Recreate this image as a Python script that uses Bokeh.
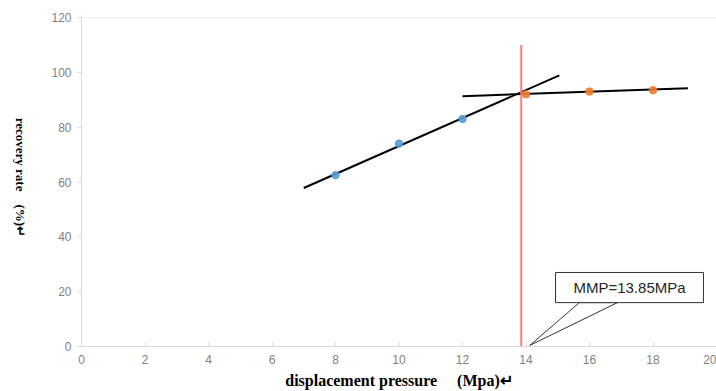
import math
from bokeh.plotting import figure
from bokeh.layouts import row
from bokeh.models import Label, Span, FixedTicker
from bokeh.core.properties import value
from bokeh.embed import file_html
from bokeh.resources import INLINE

# Data
blue_x = [8, 10, 12]
blue_y = [62.5, 74.0, 83.0]
orange_x = [14, 16, 18]
orange_y = [92.0, 93.0, 93.5]

# Trend lines (endpoints)
trend1_x = [7.0, 15.05]
trend1_y = [57.8, 98.9]
trend2_x = [12.0, 19.1]
trend2_y = [91.3, 94.2]

mmp_x = 13.85
mmp_top = 110
mmp_text = "MMP=13.85MPa"

# Callout box and pointer (data units)
box_left, box_right, box_bottom, box_top = 14.93, 19.59, 16.0, 27.0
tail_x = [15.68, 14.12, 16.88]
tail_y = [16.0, 0.4, 16.0]

x_ticks = [0, 2, 4, 6, 8, 10, 12, 14, 16, 18, 20]
y_ticks = [0, 20, 40, 60, 80, 100, 120]

x_title = "displacement pressure\u3000 (Mpa)\u21b5"
y_title = "recovery rate\u3000(%)\u21b5"

H = 391
LEFT_W = 40

# Narrow side panel that holds the rotated y-axis title
side = figure(width=LEFT_W, height=H, output_backend="svg", toolbar_location=None,
              x_range=(0, 1), y_range=(0, H), x_axis_location=None, y_axis_location=None,
              min_border=0)
side.outline_line_color = None
side.grid.grid_line_color = None
side.text(x=[0.5], y=[H - 190], text=[y_title], angle=-math.pi / 2,
          text_align="center", text_baseline="middle",
          text_font=value("Liberation Serif"), text_font_style="bold",
          text_font_size="13px", text_color="black")

p = figure(width=716 - LEFT_W, height=H, output_backend="svg", toolbar_location=None,
           x_range=(0, 20), y_range=(0, 120),
           min_border_left=81 - LEFT_W, min_border_right=0, min_border_top=17,
           min_border_bottom=44)
p.outline_line_color = None
p.grid.grid_line_color = None
p.background_fill_color = "white"

gray_line = "#d9d9d9"
for ax in (p.xaxis[0], p.yaxis[0]):
    ax.axis_line_color = gray_line
    ax.major_tick_line_color = gray_line
    ax.minor_tick_line_color = None
    ax.major_label_text_font = "Liberation Sans"
    ax.major_label_text_font_size = "12px"
    ax.major_label_text_color = "#7f7f7f"

p.xaxis.ticker = FixedTicker(ticks=x_ticks)
p.yaxis.ticker = FixedTicker(ticks=y_ticks)
p.xaxis.major_tick_in = 4
p.xaxis.major_tick_out = 0
p.xaxis.major_label_standoff = 8
p.xaxis.axis_label = x_title
p.xaxis.axis_label_standoff = 5
p.xaxis.axis_label_text_font = "Liberation Serif"
p.xaxis.axis_label_text_font_style = "bold"
p.xaxis.axis_label_text_font_size = "16px"
p.xaxis.axis_label_text_color = "black"
p.yaxis.major_tick_in = 0
p.yaxis.major_tick_out = 4
p.yaxis.major_label_standoff = 6

p.add_layout(Span(location=120, dimension="width", line_color=gray_line, line_width=1))

# trend lines
p.line(trend1_x, trend1_y, line_color="black", line_width=2)
p.line(trend2_x, trend2_y, line_color="black", line_width=2)

# MMP vertical line
p.segment(x0=[mmp_x], y0=[0], x1=[mmp_x], y1=[mmp_top], line_color="#ff7c80", line_width=2)

# points
p.scatter(blue_x, blue_y, size=7.5, color="#5b9bd5", alpha=0.9)
p.scatter(orange_x, orange_y, size=7.5, color="#ed7d31", alpha=0.9)

# callout
p.patch(tail_x, tail_y, fill_color="white", line_color="#333333", line_width=1)
p.quad(left=[box_left], right=[box_right], bottom=[box_bottom], top=[box_top],
       fill_color="white", line_color="#333333", line_width=1)
p.add_layout(Label(x=(box_left + box_right) / 2, y=(box_bottom + box_top) / 2,
                   text=mmp_text, text_align="center", text_baseline="middle",
                   text_font="Liberation Sans", text_font_size="15px", text_color="#262626"))

layout = row(side, p, spacing=0)
open("out.html", "w").write(file_html(layout, INLINE))
